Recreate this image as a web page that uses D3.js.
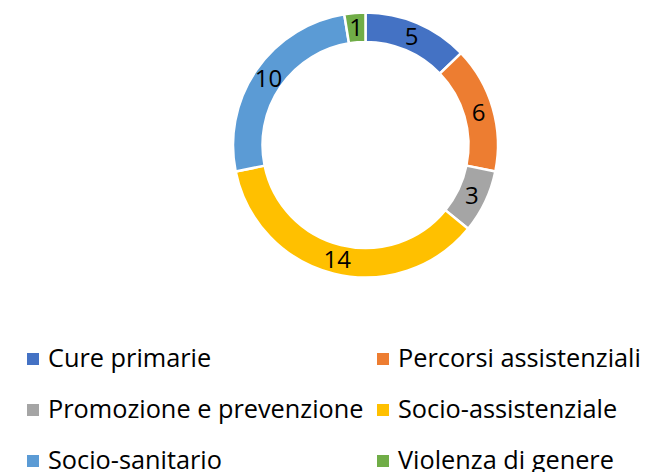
<!DOCTYPE html>
<html>
<head>
<meta charset="utf-8">
<script src="https://cdnjs.cloudflare.com/ajax/libs/d3/7.8.5/d3.min.js"></script>
<style>
  body { margin: 0; background: #fff; }
  svg text { font-family: "Open Sans", "Liberation Sans", sans-serif; fill: #000; }
</style>
</head>
<body>
<div id="chart"></div>
<script>
// chart data
var categories = ["Cure primarie", "Percorsi assistenziali", "Promozione e prevenzione",
                  "Socio-assistenziale", "Socio-sanitario", "Violenza di genere"];
var values = [5, 6, 3, 14, 10, 1];
var colors = ["#4472C4", "#ED7D31", "#A5A5A5", "#FFC000", "#5B9BD5", "#70AD47"];

var width = 647,
    height = 472;

var svg = d3.select("#chart").append("svg")
    .attr("width", width)
    .attr("height", height);

// donut geometry
var cx = 365.5, cy = 145,
    outerR = 132.5, innerR = 103;

var pie = d3.pie().sort(null).value(function(d) { return d; });
var arc = d3.arc().innerRadius(innerR).outerRadius(outerR);

var g = svg.append("g").attr("transform", "translate(" + cx + "," + cy + ")");

g.selectAll("path")
    .data(pie(values))
    .enter()
    .append("path")
    .attr("d", arc)
    .attr("fill", function(d, i) { return colors[i]; })
    .attr("stroke", "#fff")
    .attr("stroke-width", 2.5);

// data labels at the middle of each ring segment
g.selectAll("text.lbl")
    .data(pie(values))
    .enter()
    .append("text")
    .attr("class", "lbl")
    .attr("transform", function(d) { return "translate(" + arc.centroid(d) + ")"; })
    .attr("text-anchor", "middle")
    .attr("dy", "0.36em")
    .style("font-size", "24px")
    .text(function(d) { return d.data; });

// legend, two columns (last row runs off the bottom edge like the original)
var colX = d3.scaleOrdinal().domain([0, 1]).range([27, 377]);
var rowY = d3.scaleLinear().domain([0, 2]).range([359, 461]);

var legend = svg.selectAll("g.legend")
    .data(categories)
    .enter()
    .append("g")
    .attr("class", "legend")
    .attr("transform", function(d, i) {
        return "translate(" + colX(i % 2) + "," + rowY(Math.floor(i / 2)) + ")";
    });

legend.append("rect")
    .attr("x", 0)
    .attr("y", -6)
    .attr("width", 12)
    .attr("height", 12)
    .attr("fill", function(d, i) { return colors[i]; });

legend.append("text")
    .attr("x", 21)
    .attr("dy", "0.33em")
    .style("font-size", "25.3px")
    .text(function(d) { return d; });
</script>
</body>
</html>
